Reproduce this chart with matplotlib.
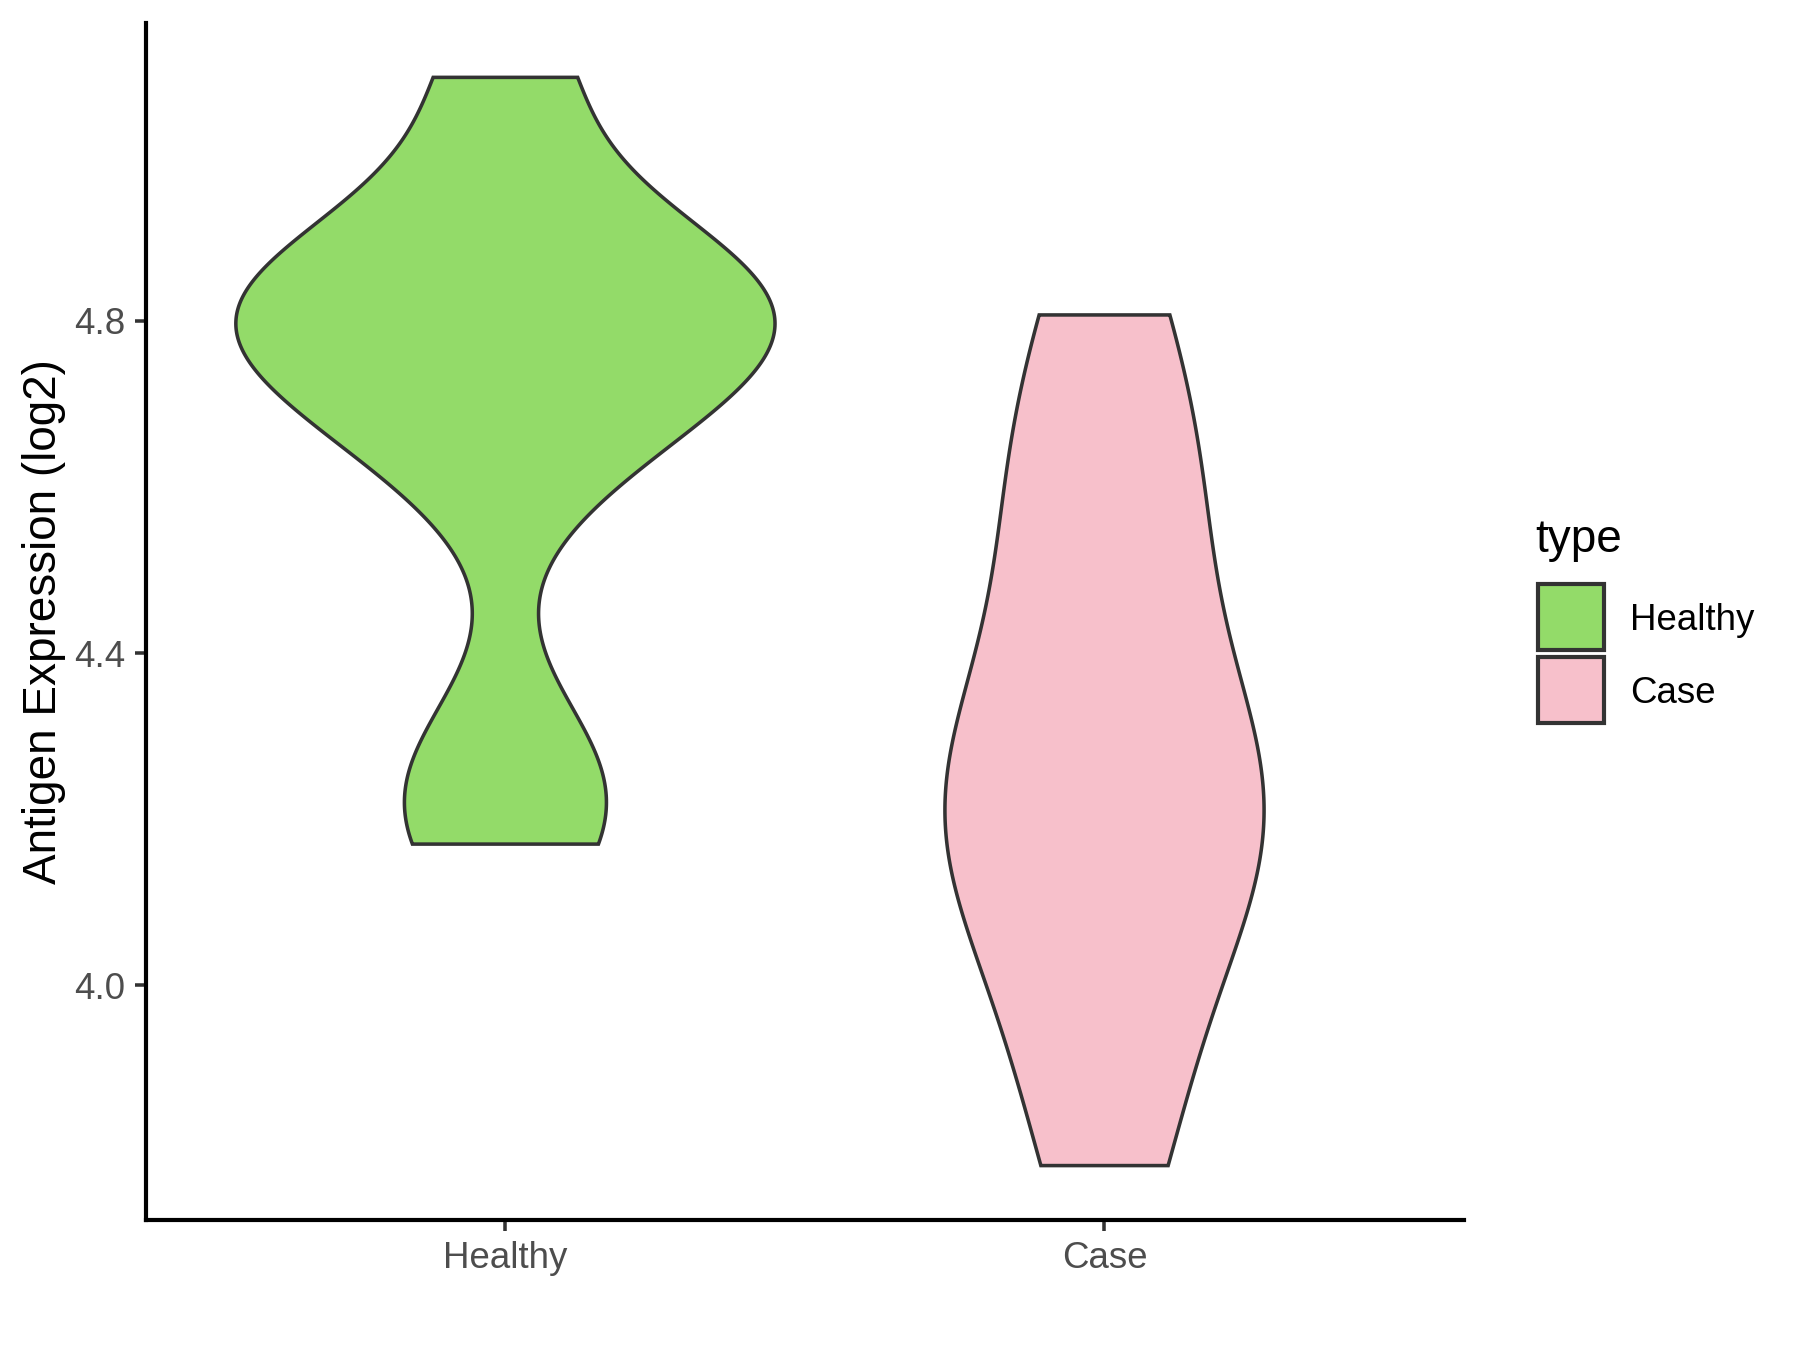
import numpy as np
import matplotlib.pyplot as plt
from matplotlib.patches import Rectangle

plt.rcParams['font.family'] = ['Liberation Sans', 'DejaVu Sans']

# estimated samples per group
groups = ['Healthy', 'Case']
healthy_vals = [4.17, 4.27, 4.64, 4.72, 4.78, 4.82, 4.84, 4.88, 5.093]
case_vals = [3.783, 3.97, 4.13, 4.20, 4.24, 4.30, 4.52, 4.62, 4.807]
bandwidths = [0.11, 0.17]
colors = ['#93DB69', '#F7C0CB']
ylabel = 'Antigen Expression (log2)'
yticks = [4.0, 4.4, 4.8]


def kde(x, bw):
    x = np.asarray(x)
    grid = np.linspace(x.min(), x.max(), 512)
    d = np.exp(-0.5 * ((grid[:, None] - x[None, :]) / bw) ** 2).sum(axis=1)
    d /= len(x) * bw * np.sqrt(2 * np.pi)
    return grid, d


dens = [kde(v, bw) for v, bw in zip((healthy_vals, case_vals), bandwidths)]
dmax = max(d.max() for _, d in dens)

fig = plt.figure(figsize=(6, 4.5), dpi=300)
ax = fig.add_axes([0.0811, 0.0963, 0.7322, 0.8867])

for i, ((grid, d), col) in enumerate(zip(dens, colors)):
    xpos = i + 1
    w = d / dmax * 0.9 / 2
    xs = np.concatenate([xpos - w, (xpos + w)[::-1]])
    ys = np.concatenate([grid, grid[::-1]])
    ax.fill(xs, ys, facecolor=col, edgecolor='#333333', linewidth=0.85, closed=True)

allv = np.concatenate([healthy_vals, case_vals])
r = allv.max() - allv.min()
ax.set_ylim(allv.min() - 0.05 * r, allv.max() + 0.05 * r)
ax.set_xlim(0.4, 2.6)
ax.set_xticks([1, 2])
ax.set_xticklabels(groups)
ax.set_yticks(yticks)
ax.set_yticklabels([f'{t:.1f}' for t in yticks])
ax.tick_params(axis='both', labelsize=8.8, labelcolor='#4D4D4D', color='#333333',
               length=2.75, width=0.85, pad=2.2)
ax.set_ylabel(ylabel, fontsize=11, color='black', labelpad=2.0)
for s in ['top', 'right']:
    ax.spines[s].set_visible(False)
for s in ['left', 'bottom']:
    ax.spines[s].set_linewidth(1.0)
    ax.spines[s].set_color('black')

# legend
fig.text(0.853, 0.60, 'type', fontsize=11, va='center', ha='left')
key_tops = [0.5674, 0.5133]
for top, col, lab in zip(key_tops, colors, groups):
    fig.add_artist(Rectangle((0.8544, top - 0.0489), 0.0367, 0.0489, transform=fig.transFigure,
                             facecolor=col, edgecolor='#333333', linewidth=1.0))
    fig.text(0.9056, top - 0.0270, lab, fontsize=8.8, va='center', ha='left')

fig.savefig('out.png', dpi=300)
